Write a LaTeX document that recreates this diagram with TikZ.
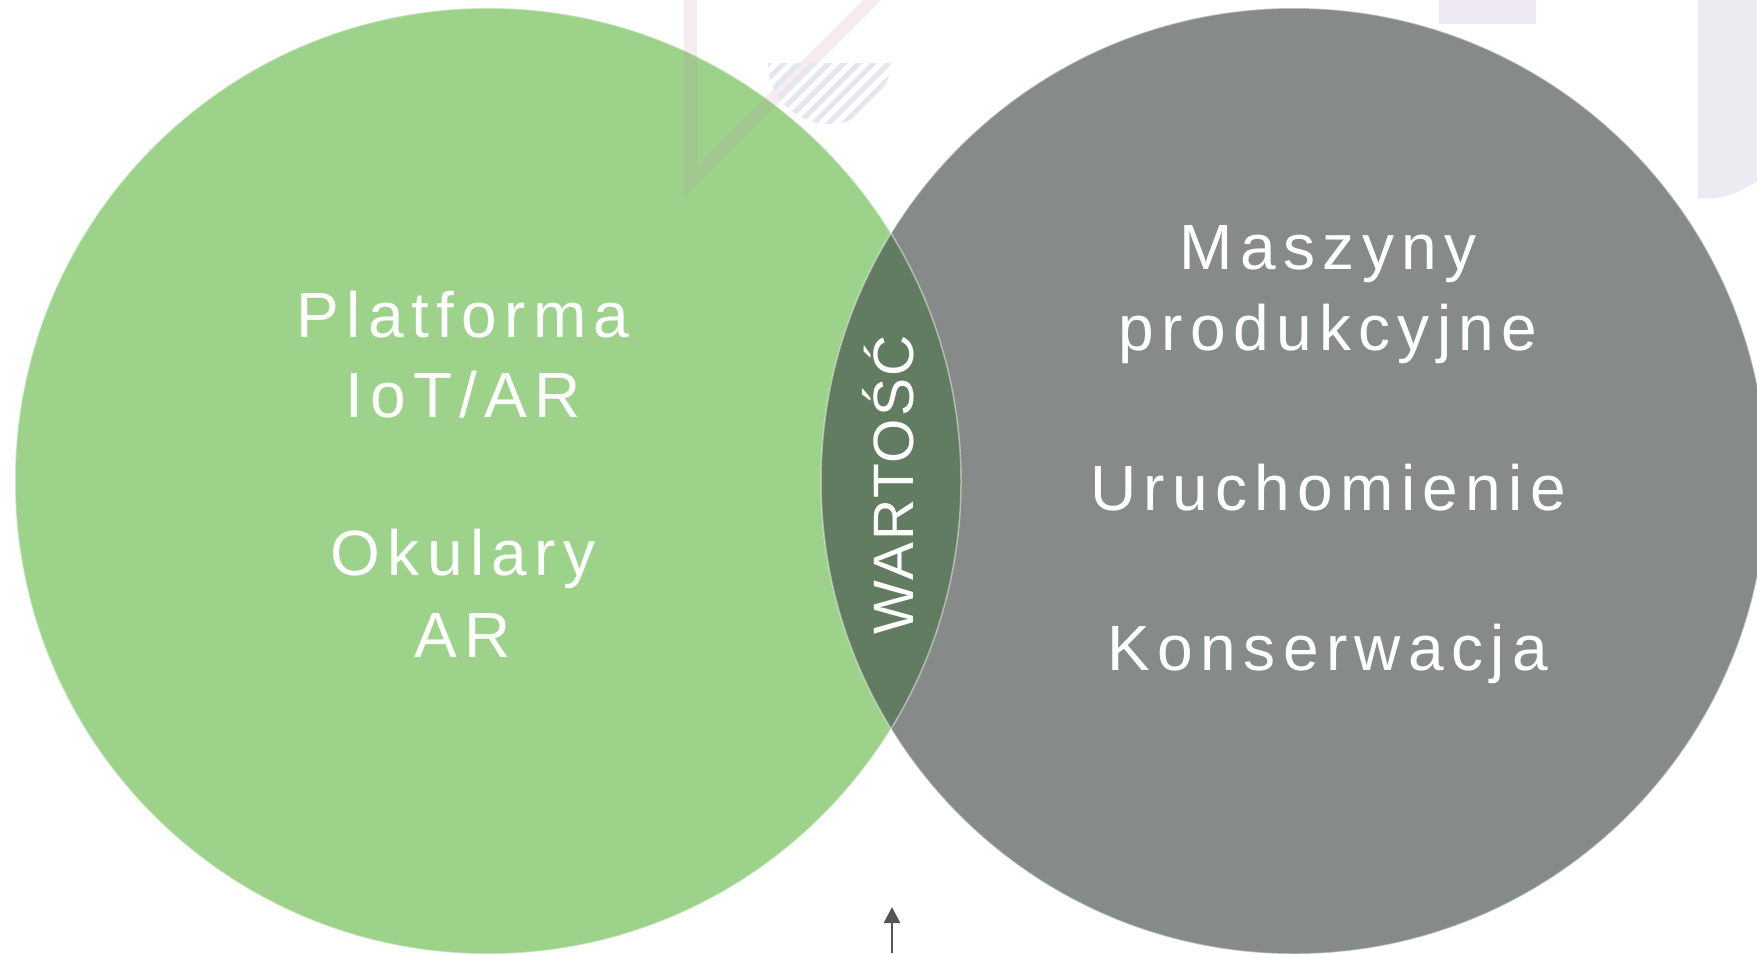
\documentclass[tikz,border=0pt]{standalone}
\usepackage{fontspec}
\setmainfont{Liberation Sans}
\newfontfamily\venntext[LetterSpace=11.5]{Liberation Sans}
\newfontfamily\lenstext[LetterSpace=3.5]{Liberation Sans}
\usetikzlibrary{arrows.meta}
\definecolor{setgreen}{HTML}{9DD28A}
\definecolor{setgray}{HTML}{868B8A}
\definecolor{lensgreen}{HTML}{627C62}
\definecolor{decomauve}{HTML}{BE82AA}
\definecolor{decolilac}{HTML}{EEE9F5}
\definecolor{decohatch}{HTML}{E6E6EE}
\definecolor{arrowgray}{HTML}{555555}
\begin{document}
\begin{tikzpicture}[
  x=0.01cm, y=-0.01cm,
  setlabel/.style={text=white, anchor=base, inner sep=0pt, font=\venntext\fontsize{18.2}{20}\selectfont},
  lenslabel/.style={text=white, anchor=base, inner sep=0pt, rotate=90, font=\lenstext\fontsize{16.2}{18}\selectfont},
  rim/.style={draw=white, draw opacity=0.45, line width=0.015cm},
  pointer/.style={-{Triangle[width=0.16cm,length=0.16cm]}, draw=arrowgray, line width=0.027cm}
]
\useasboundingbox (0,0) rectangle (1757,953);
% background decoration
\fill[decolilac] (1439,0) rectangle (1536,24);
\fill[decohatch!80] (1698,0) -- (1698,198) .. controls (1722,201) and (1742,191) .. (1757,181) -- (1757,0) -- cycle;
% the two sets and their overlap
\coordinate (leftc) at (488,481);
\coordinate (rightc) at (1294,481);
\fill[setgreen] (leftc) circle (473);
\fill[setgray] (rightc) circle (473);
\begin{scope}
  \clip (leftc) circle (473);
  \fill[lensgreen] (rightc) circle (473);
\end{scope}
\draw[rim] (leftc) circle (473);
\draw[rim] (rightc) circle (473);
\draw[decomauve, opacity=0.15, line width=0.13cm, line join=miter] (690.5,-10) -- (690.5,182) -- (882,-10);
\begin{scope}
  \clip (768,63) rectangle (890,130);
  \clip (829,63) circle (61);
  \foreach \k in {-9,...,9}
    \draw[decohatch, line width=0.05cm] (829+\k*15-90,153) -- ++(180,-180);
\end{scope}
% labels
\node[setlabel] (plat) at (463,337) {Platforma};
\node[setlabel] (iot) at (463,417) {IoT/AR};
\node[setlabel] (okul) at (463,575) {Okulary};
\node[setlabel] (ar) at (463,657) {AR};
\node[setlabel] (masz) at (1328,269) {Maszyny};
\node[setlabel] (prod) at (1328,350) {produkcyjne};
\node[setlabel] (uruch) at (1328,510) {Uruchomienie};
\node[setlabel] (konserw) at (1328,670) {Konserwacja};
\node[lenslabel] (wart) at (913,485) {WARTOŚĆ};
\coordinate (arrowfoot) at (892,953);
\coordinate (arrowtip) at (892,907);
\draw[pointer] (arrowfoot) -- (arrowtip);
\end{tikzpicture}
\end{document}
